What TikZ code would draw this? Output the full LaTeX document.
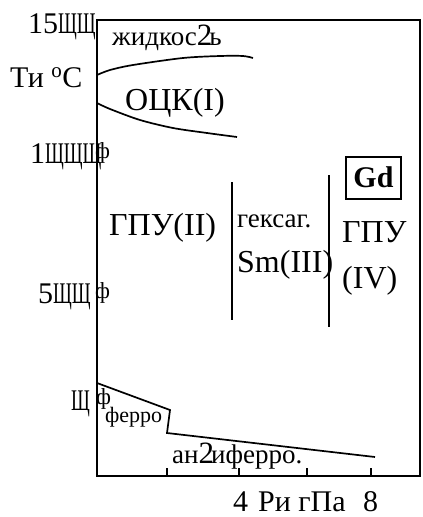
\documentclass[tikz,border=0pt]{standalone}
\usepackage{graphicx}
\usepackage{fontspec}
\setmainfont{Liberation Serif}
\newcommand\zzq{\scalebox{0.62}[1]{Щ}}
\newcommand\bigtwo{{\fontsize{31}{31}\selectfont 2}\kern-3pt}
\begin{document}
\begin{tikzpicture}[x=1pt,y=-1pt,
  big/.style={inner sep=0,anchor=base west,font=\fontsize{32}{32}\selectfont},
  mid/.style={inner sep=0,anchor=base west,font=\fontsize{30}{30}\selectfont},
  sml/.style={inner sep=0,anchor=base west,font=\fontsize{27}{27}\selectfont},
  tiny/.style={inner sep=0,anchor=base west,font=\fontsize{22}{22}\selectfont},
  tk/.style={inner sep=0,anchor=west,font=\fontsize{23}{23}\selectfont},
  bound/.style={line width=1.7pt},
  frame/.style={line width=1.9pt}]
\useasboundingbox (0,0) rectangle (423,517);
% frame
\draw[frame] (97,20) rectangle (420,476);
% bottom ticks
\foreach \x in {167,239,307,371} \draw[line width=1.2pt] (\x,468) -- (\x,476);
% phase boundaries
\draw[bound] plot[smooth,tension=0.5] coordinates {(97,75) (110,70) (133,65) (183,58) (220,56) (243,56) (253,58)};
\draw[bound] plot[smooth,tension=0.5] coordinates {(97,103) (110,109) (140,120) (173,128) (207,133) (237,137)};
\draw[bound] (232,182) -- (232,320);
\draw[bound] (329,175) -- (329,327);
\draw[bound] (97,383) -- (170,410) -- (167,433) -- (375,457);
% Gd box
\draw[line width=1.6pt] (346,157) rectangle (401,199);
\node[inner sep=0,anchor=base,font=\fontsize{30}{30}\selectfont\bfseries] (gd) at (373.5,187) {Gd};
% axis labels
\node[mid] (t1500) at (28,33) {15\zzq\zzq};
\node[mid] (tlab) at (10,87) {Ти \textsuperscript{o}C};
\node[mid] (t1000) at (30,163) {1\zzq\zzq\zzq};
\node[tk] (k1000) at (95,153) {ф};
\node[mid] (t500) at (38,303) {5\zzq\zzq};
\node[tk] (k500) at (95,293) {ф};
\node[mid] (t0) at (71,410) {\zzq};
\node[tk] (k0) at (96,399) {ф};
\node[mid] (x4) at (233,511) {4};
\node[mid] (plab) at (258,511) {Ρи гПа};
\node[mid] (x8) at (363,511) {8};
% phase labels
\node[sml] (liq) at (112,45) {жидкос\bigtwo ь};
\node[big] (bcc) at (125,110) {ОЦК(I)};
\node[big] (hcp2) at (109,235) {ГПУ(II)};
\node[sml] (hex) at (237,227) {гексаг.};
\node[big] (sm3) at (237,272) {Sm(III)};
\node[big] (hcp4a) at (342,242) {ГПУ};
\node[big] (hcp4b) at (342,288) {(IV)};
\node[tiny] (ferro) at (105,422) {феррo};
\node[sml] (afm) at (172,463) {ан\bigtwo иферро.};
\end{tikzpicture}
\end{document}
